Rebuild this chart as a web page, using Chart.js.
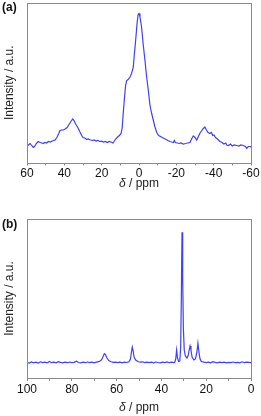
<!DOCTYPE html>
<html>
<head>
<meta charset="utf-8">
<script src="https://cdn.jsdelivr.net/npm/chart.js@4.4.0/dist/chart.umd.min.js"></script>
<style>
  html, body { margin: 0; padding: 0; background: #fff; }
  body { width: 261px; height: 416px; position: relative; overflow: hidden; font-family: "Liberation Sans", Arial, sans-serif; }
  .panel { position: absolute; left: 0; width: 261px; height: 208px; }
  .tag { position: absolute; left: 2px; font-weight: bold; font-size: 12px; color: #111; }
  .xtitle { position: absolute; left: 0; width: 278px; text-align: center; font-size: 12px; color: #222; }
</style>
</head>
<body>
<div class="panel" style="top:0"><canvas id="chartA"></canvas></div>
<div class="panel" style="top:208px"><canvas id="chartB"></canvas></div>
<div class="tag" style="top:0px">(a)</div>
<div class="tag" style="top:217px">(b)</div>
<div class="xtitle" style="top:176px"><i>δ</i> / ppm</div>
<div class="xtitle" style="top:400px"><i>δ</i> / ppm</div>
<script>
// (a) 신호: 화학적 이동(ppm)과 세기(임의 단위)
const shiftA = [60, 59, 58.3, 57.5, 56.6, 56, 55, 54, 53, 52, 51.3, 50.5, 49.5, 48.6, 47.5, 46.5, 45, 44, 43, 42.3,
  41.5, 40.5, 39.6, 38.5, 37.5, 36.5, 35.5, 34.8, 34, 33.4, 32.5, 31.5, 30.7, 30, 29, 28, 27.2, 26, 25, 24,
  23, 22, 21, 20, 19, 18, 17, 16, 15, 14, 13.5, 12.5, 11.5, 10.5, 9.6, 9, 8.5, 7.9, 7.2, 6.6,
  5.8, 4.8, 4, 3.1, 2.5, 1.8, 1, 0.4, 0, -0.5, -1.4, -2.2, -3.2, -4, -5, -5.9, -6.8, -7.7, -8.5, -9.5,
  -10.5, -11.5, -12.5, -13.5, -14.5, -15.5, -16.6, -17.5, -18.5, -18.9, -19.5, -20.5, -21.5, -22.5, -23.7, -25, -26, -27.3, -28.3, -29.1,
  -30, -30.9, -31.8, -32.7, -33.5, -34.5, -35.3, -36, -37, -38, -38.8, -39.5, -40.2, -41, -42, -43.4, -44.5, -45.5, -46.5, -47,
  -48, -49, -50, -51, -52.3, -53.5, -54.5, -55.9, -57, -57.7, -58.5, -59.5, -60];
const intensityA = [16, 18, 19, 17, 15, 16, 19, 21, 20, 19.5, 19, 20, 19.5, 21, 20.5, 21.5, 22.5, 25, 29, 32,
  32.5, 32.5, 33.5, 35, 38, 41, 43.5, 42, 38.5, 37, 34, 30, 27, 25, 24.5, 23, 23.5, 22.5, 22, 22.5,
  21.5, 22, 21, 21.3, 20.5, 21, 20, 21, 20.5, 19.5, 20.5, 23.5, 25.5, 27, 29, 35, 48, 62, 77, 82,
  83, 85.5, 89, 95, 108, 122, 140, 148.5, 149, 146, 135, 119, 102, 87, 72, 57, 49, 42, 36, 30,
  27, 26, 25, 24, 23, 22, 21, 20.5, 20, 22, 20, 19.5, 19, 19.5, 18.5, 19, 19.5, 20, 24, 26.5,
  25, 22.5, 26, 29.5, 31.5, 34, 35.5, 33, 30, 29, 30, 27, 27.5, 25, 23.5, 21, 20, 18.5, 19.5, 17.5,
  17, 18.5, 16.5, 17.5, 17, 16.5, 17.5, 17, 16, 14, 16, 16, 15.5];

// (b) 신호
const shiftB = [100, 99, 98, 97, 96, 95, 94, 93, 92, 91, 90, 89, 88, 87, 86, 85, 84, 83, 82, 81,
  80, 79, 78, 77, 76, 75, 74, 73, 72, 71, 70, 69, 68, 67, 66.3, 65.5, 65, 64.3, 63.5, 62.5,
  61.5, 60.5, 59.5, 58.5, 57.5, 56.5, 55.5, 54.5, 53.8, 53.3, 53, 52.6, 52.2, 51.5, 50.5, 49.5, 48.5, 47.5, 46.5, 45.5,
  44.5, 43.5, 42.5, 41.5, 40.5, 39.5, 38.5, 37.5, 36.5, 35.5, 34.5, 34, 33.6, 33.2, 32.8, 32.3, 31.8, 31.4, 31.1, 30.8,
  30.5, 30.2, 29.8, 29.3, 28.6, 28, 27.6, 27.2, 26.8, 26.3, 25.5, 24.8, 24.2, 23.7, 23.3, 22.8, 22.2, 21, 20, 19,
  18, 17, 16, 15, 14, 13, 12, 11, 10, 9, 8, 7, 6, 5, 4, 3, 2, 1, 0];
const intensityB = [15.5, 15, 16, 15.2, 15.8, 15, 16.2, 15.4, 15.9, 15.1, 16.5, 15.3, 15.9, 15.2, 16.3, 15.6, 15.1, 15.8, 15.3, 16,
  15.4, 15.7, 16.8, 15.5, 15.2, 15.9, 15.3, 16, 15.4, 15.8, 15.2, 15.9, 16.3, 17.5, 20, 24.4, 23.5, 20, 17.5, 16.3,
  15.6, 15.9, 15.3, 15.8, 15.2, 15.9, 15.5, 16.2, 19, 27, 31, 27, 21, 18, 16.5, 15.8, 16.2, 15.4, 15.9, 15.3,
  15.8, 15.2, 16, 15.5, 15.1, 15.9, 15.4, 16.1, 15.3, 15.8, 15.4, 15.8, 19, 28, 20, 16.5, 17, 30, 80, 145.7,
  100, 50, 28, 22, 20, 23, 28, 32, 28, 21, 18, 19, 25, 34.7, 27, 19.5, 16.5, 15.8, 15.4, 15.9,
  15.2, 16.4, 15.6, 15.1, 15.8, 15.3, 15.9, 15.2, 15.7, 15.4, 16, 15.3, 15.6, 15.1, 16.2, 15.4, 15.8, 15.6, 15.3];

const lineBlue = '#3f3ff5';
const frameGray = '#8a8a8a';

// 플롯 영역 테두리
const framePlugin = {
  id: 'frame',
  afterDraw(chart) {
    const { left, top, right, bottom } = chart.chartArea;
    const ctx = chart.ctx;
    ctx.save();
    ctx.strokeStyle = frameGray;
    ctx.lineWidth = 1;
    ctx.strokeRect(Math.round(left) + 0.5, Math.round(top) + 0.5, Math.round(right - left), Math.round(bottom - top));
    ctx.restore();
  }
};

function makeChart(id, xs, ys, xmin, xmax, ymax, padTop, xHeight) {
  const points = xs.map((x, i) => ({ x: x, y: ys[i] }));
  return new Chart(document.getElementById(id), {
    type: 'line',
    data: {
      datasets: [{
        data: points,
        borderColor: lineBlue,
        borderWidth: 1.2,
        pointRadius: 0,
        tension: 0,
        fill: false
      }]
    },
    options: {
      responsive: true,
      maintainAspectRatio: false,
      animation: false,
      devicePixelRatio: 1,
      layout: { padding: { left: 0, right: 10, top: padTop, bottom: 0 } },
      plugins: { legend: { display: false }, tooltip: { enabled: false } },
      scales: {
        x: {
          type: 'linear',
          reverse: true,
          min: xmin,
          max: xmax,
          border: { display: false },
          grid: { drawOnChartArea: false, drawTicks: true, tickLength: 3, color: frameGray },
          ticks: {
            stepSize: 10,
            autoSkip: false,
            maxRotation: 0,
            padding: 1,
            color: '#111',
            font: { family: 'Liberation Sans', size: 12 },
            callback: v => (v % 20 === 0 ? String(v) : '')
          },
          afterFit: s => { s.height = xHeight; }
        },
        y: {
          min: 0,
          max: ymax,
          border: { display: false },
          grid: { display: false, drawTicks: false },
          ticks: { display: false },
          title: {
            display: true,
            text: 'Intensity / a.u.',
            color: '#222',
            font: { family: 'Liberation Sans', size: 12 },
            padding: { top: 2, bottom: 2 }
          },
          afterFit: s => { s.width = 27; }
        }
      }
    },
    plugins: [framePlugin]
  });
}

makeChart('chartA', shiftA, intensityA, -60, 60, 159.5, 3, 45.5);
makeChart('chartB', shiftB, intensityB, 0, 100, 159, 11, 38);
</script>
</body>
</html>
